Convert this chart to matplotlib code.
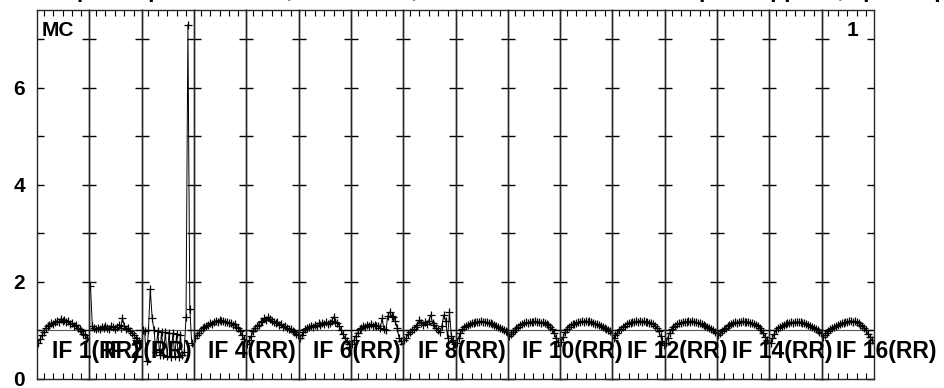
import numpy as np
import matplotlib
matplotlib.use("Agg")
import matplotlib.pyplot as plt

plt.rcParams['font.family'] = ['Liberation Sans', 'DejaVu Sans']
plt.rcParams['font.weight'] = 'bold'

# channels plotted in every IF panel
channels = np.arange(2, 30)

# bandpass amplitudes, one list per IF (RR)
if1 = [0.75, 0.82, 0.9, 0.97, 1.05, 1.1, 1.12, 1.15, 1.14, 1.18, 1.2, 1.17, 1.24, 1.2,
       1.22, 1.17, 1.19, 1.13, 1.15, 1.1, 1.12, 1.06, 1.02, 0.98, 0.93, 0.9, 0.84, 0.8]
if2 = [1.92, 1.1, 1.05, 1.02, 1.06, 1.03, 1.08, 1.05, 1.1, 1.06, 1.04, 1.1, 1.07, 1.02,
       1.08, 1.12, 1.05, 1.25, 1.1, 1.03, 1.05, 0.98, 0.95, 0.9, 0.85, 0.8, 0.78, 0.75]
if3 = [1.0, 0.98, 0.37, 1.0, 1.85, 1.25, 1.0, 0.55, 0.98, 0.5, 0.97, 0.5, 0.96, 0.48,
       0.95, 0.45, 0.94, 0.47, 0.92, 0.45, 0.9, 0.5, 0.55, 1.27, 7.3, 1.44, 0.75, 0.7]
if4 = [0.85, 0.9, 0.95, 1.0, 1.05, 1.08, 1.1, 1.12, 1.15, 1.13, 1.17, 1.2, 1.18, 1.22,
       1.19, 1.2, 1.17, 1.18, 1.15, 1.16, 1.12, 1.13, 1.08, 1.05, 0.98, 0.9, 0.82, 0.78]
if5 = [0.72, 0.8, 0.88, 0.98, 1.05, 1.1, 1.12, 1.18, 1.2, 1.25, 1.22, 1.28, 1.24, 1.2,
       1.18, 1.15, 1.17, 1.12, 1.13, 1.08, 1.1, 1.05, 1.02, 1.04, 0.98, 0.96, 0.93, 0.9]
if6 = [0.85, 0.9, 0.97, 1.02, 1.05, 1.08, 1.1, 1.07, 1.12, 1.1, 1.15, 1.12, 1.16, 1.13,
       1.18, 1.14, 1.15, 1.2, 1.28, 1.18, 1.15, 1.1, 1.0, 0.92, 0.85, 0.78, 0.72, 0.66]
if7 = [0.72, 0.8, 0.88, 0.95, 1.02, 1.05, 1.1, 1.08, 1.12, 1.1, 1.13, 1.1, 1.12, 1.09,
       1.1, 1.05, 1.25, 1.02, 1.0, 1.3, 1.38, 1.3, 1.28, 1.2, 1.05, 0.85, 0.78, 0.72]
if8 = [0.8, 0.85, 0.92, 0.96, 1.0, 1.02, 1.08, 1.12, 1.22, 1.15, 1.12, 1.18, 1.14, 1.2,
       1.32, 1.15, 1.12, 1.05, 1.0, 0.97, 1.1, 1.32, 1.2, 0.85, 1.37, 0.88, 0.8, 0.72]
if9 = [0.75, 0.85, 0.95, 1.02, 1.07, 1.1, 1.12, 1.14, 1.15, 1.16, 1.17, 1.18, 1.17, 1.19,
       1.18, 1.18, 1.17, 1.16, 1.15, 1.13, 1.12, 1.1, 1.08, 1.05, 1.03, 1.0, 0.98, 0.96]
if10 = [0.88, 0.92, 0.96, 1.0, 1.05, 1.08, 1.12, 1.14, 1.15, 1.17, 1.16, 1.18, 1.17, 1.18,
        1.19, 1.17, 1.18, 1.16, 1.17, 1.15, 1.14, 1.12, 1.08, 1.02, 0.95, 0.85, 0.76, 0.68]
if11 = [0.76, 0.86, 0.96, 1.03, 1.08, 1.11, 1.13, 1.14, 1.16, 1.17, 1.18, 1.19, 1.18, 1.2,
        1.18, 1.19, 1.17, 1.16, 1.14, 1.13, 1.11, 1.09, 1.07, 1.05, 1.02, 1.0, 0.98, 0.95]
if12 = [0.85, 0.9, 0.95, 1.0, 1.04, 1.08, 1.1, 1.13, 1.15, 1.16, 1.18, 1.17, 1.19, 1.18,
        1.2, 1.18, 1.19, 1.17, 1.18, 1.16, 1.15, 1.13, 1.1, 1.05, 0.98, 0.88, 0.78, 0.7]
if13 = [0.74, 0.85, 0.95, 1.03, 1.08, 1.1, 1.13, 1.15, 1.16, 1.17, 1.18, 1.17, 1.19, 1.18,
        1.2, 1.18, 1.17, 1.16, 1.15, 1.14, 1.12, 1.1, 1.08, 1.05, 1.03, 1.0, 0.97, 0.95]
if14 = [0.9, 0.94, 0.98, 1.02, 1.06, 1.1, 1.12, 1.14, 1.16, 1.17, 1.16, 1.18, 1.17, 1.19,
        1.18, 1.17, 1.18, 1.16, 1.15, 1.14, 1.12, 1.1, 1.05, 1.0, 0.94, 0.86, 0.8, 0.75]
if15 = [0.75, 0.84, 0.93, 1.0, 1.05, 1.08, 1.1, 1.12, 1.14, 1.15, 1.16, 1.17, 1.16, 1.18,
        1.17, 1.18, 1.17, 1.16, 1.15, 1.13, 1.12, 1.1, 1.07, 1.05, 1.02, 1.0, 0.97, 0.95]
if16 = [0.86, 0.9, 0.95, 0.98, 1.02, 1.05, 1.07, 1.1, 1.12, 1.13, 1.15, 1.16, 1.17, 1.18,
        1.19, 1.2, 1.18, 1.19, 1.17, 1.15, 1.12, 1.1, 1.05, 1.0, 0.93, 0.86, 0.8, 0.74]
spectra = [if1, if2, if3, if4, if5, if6, if7, if8,
           if9, if10, if11, if12, if13, if14, if15, if16]

# IF labels that show up along the bottom of the plot
labelled_ifs = [1, 2, 4, 6, 8, 10, 12, 14, 16]
y_ticks = list(range(0, 8))
y_ticklabels = ['0', '', '2', '', '4', '', '6', '']

W, H = 944, 388
fig = plt.figure(figsize=(W / 100, H / 100), dpi=100)

left_px, right_px, top_px, bottom_px = 37, 874, 10, 379
n = len(spectra)
pw = (right_px - left_px) / n

for i, amp in enumerate(spectra):
    x0 = left_px + i * pw
    ax = fig.add_axes([x0 / W, 1 - bottom_px / H, pw / W, (bottom_px - top_px) / H])
    ax.axhline(1.0, color='0.35', lw=0.8, zorder=1)
    ax.plot(channels, amp, color='black', lw=0.7, marker='+', ms=5.5, mew=0.9, zorder=2)
    ax.set_xlim(1.4, 29.2)
    ax.set_ylim(0, 7.6)
    ax.set_xticks([5, 10, 15, 20, 25])
    ax.set_xticklabels([])
    ax.set_yticks(y_ticks)
    if i == 0:
        ax.set_yticklabels(y_ticklabels)
    else:
        ax.set_yticklabels([])
    ax.tick_params(axis='x', direction='in', top=True, bottom=True, length=4, width=0.8)
    ax.tick_params(axis='y', direction='in', left=True, right=True, length=5, width=1.0,
                   labelsize=15, pad=8.5)
    for s in ax.spines.values():
        s.set_linewidth(1.0)
        s.set_color('0.15')
    ax.set_facecolor('none')

for k in labelled_ifs:
    x0 = left_px + (k - 1) * pw
    fig.text((x0 + 14.5) / W, 1 - 358 / H, f'IF {k}(RR)', fontsize=16.5,
             fontweight='bold', ha='left', va='baseline')

fig.text(42 / W, 1 - 21 / H, 'MC', fontsize=15, fontweight='bold', va='top')
fig.text(858 / W, 1 - 21 / H, '1', fontsize=15, fontweight='bold', va='top', ha='right')

# title sits mostly above the canvas, only its lowest strokes show
fig.text(0.52, 1.0 + 3.5 / H,
         'Bandpass spectra of MC, IF 1-16 RR, with calibration and bandpass applied, space app',
         fontsize=16.5, fontweight='bold', ha='center', va='baseline')

fig.savefig('out.png', dpi=100)
